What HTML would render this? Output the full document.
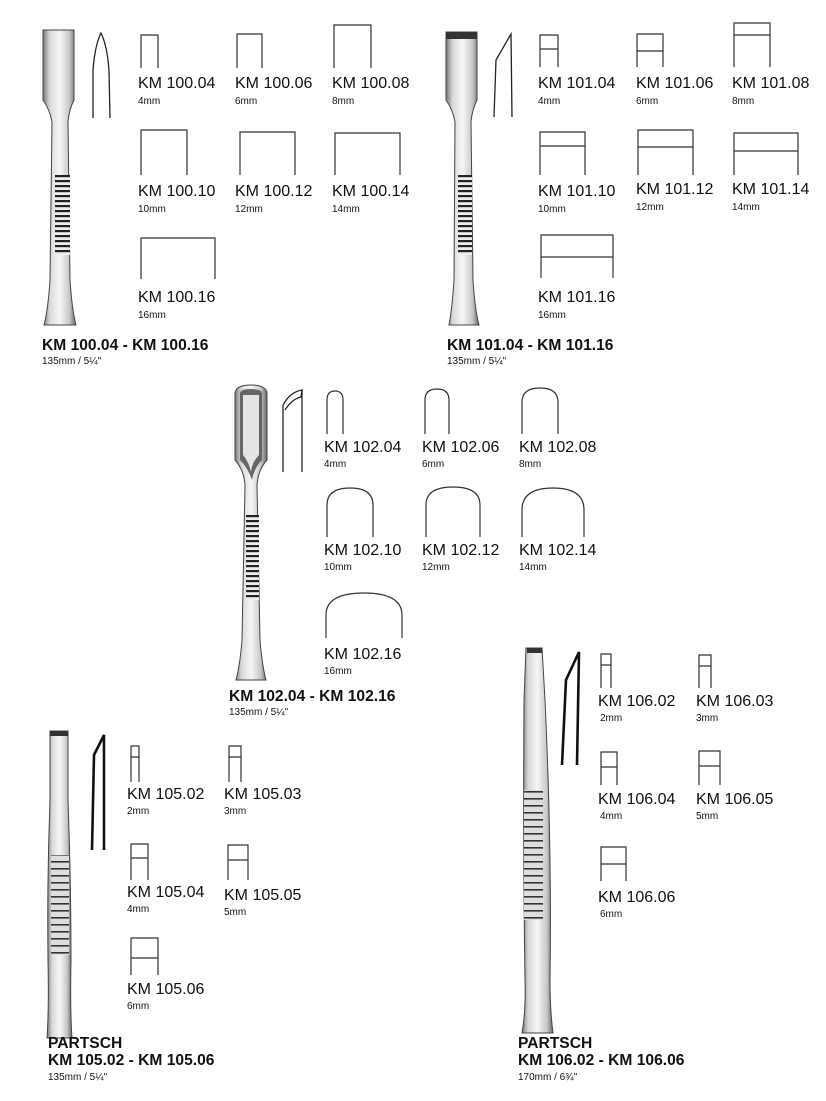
<!DOCTYPE html>
<html><head><meta charset="utf-8"><style>
html,body{margin:0;padding:0;background:#fff;}
svg{display:block;}
text{font-family:"Liberation Sans",Arial,sans-serif;fill:#111;}
.l{font-size:16px;}
.m{font-size:10px;}
.t{font-size:15.6px;font-weight:bold;}
.s{fill:none;stroke:#333;stroke-width:1.2;}
.p{fill:none;stroke:#222;stroke-width:1.3;}
.pk{fill:none;stroke:#111;stroke-width:2.6;}
.ins{fill:url(#g);stroke:#444;stroke-width:1;}
</style></head><body>
<svg width="826" height="1101" viewBox="0 0 826 1101" xmlns="http://www.w3.org/2000/svg">
<defs>
<linearGradient id="g" x1="0" x2="1" y1="0" y2="0">
<stop offset="0" stop-color="#777"/><stop offset="0.2" stop-color="#d8d8d8"/><stop offset="0.5" stop-color="#f6f6f6"/><stop offset="0.8" stop-color="#c8c8c8"/><stop offset="1" stop-color="#666"/>
</linearGradient>
<pattern id="ser" width="4" height="5" patternUnits="userSpaceOnUse"><rect width="4" height="5" fill="#eee"/><rect width="4" height="2.2" fill="#222"/></pattern>
<pattern id="ser2" width="4" height="7" patternUnits="userSpaceOnUse"><rect width="4" height="7" fill="#ddd"/><rect width="4" height="1.6" fill="#333"/></pattern>
</defs>

<!-- SET 1 -->
<path class="ins" d="M43,30 L74,30 L74,100 Q69,110 68,122 L70,280 Q72,310 76,325 L44,325 Q48,310 50,280 L52,122 Q50,110 43,100 Z"/>
<rect x="55" y="175" width="15" height="80" fill="url(#ser)"/>
<path class="p" d="M93,118 L93,70 Q95,45 101,33 Q107,45 109,70 L110,118"/>
<path class="s" d="M141,68 V35 H158 V68"/>
<path class="s" d="M237,68 V34 H262 V68"/>
<path class="s" d="M334,68 V25 H371 V68"/>
<path class="s" d="M141,175 V130 H187 V175"/>
<path class="s" d="M240,175 V132 H295 V175"/>
<path class="s" d="M335,175 V133 H400 V175"/>
<path class="s" d="M141,279 V238 H215 V279"/>
<text class="l" x="138" y="88">KM 100.04</text><text class="m" x="138" y="104">4mm</text>
<text class="l" x="235" y="88">KM 100.06</text><text class="m" x="235" y="104">6mm</text>
<text class="l" x="332" y="88">KM 100.08</text><text class="m" x="332" y="104">8mm</text>
<text class="l" x="138" y="196">KM 100.10</text><text class="m" x="138" y="212">10mm</text>
<text class="l" x="235" y="196">KM 100.12</text><text class="m" x="235" y="212">12mm</text>
<text class="l" x="332" y="196">KM 100.14</text><text class="m" x="332" y="212">14mm</text>
<text class="l" x="138" y="302">KM 100.16</text><text class="m" x="138" y="318">16mm</text>
<text class="t" x="42" y="350">KM 100.04 - KM 100.16</text>
<text class="m" x="42" y="364">135mm / 5¼"</text>

<!-- SET 2 -->
<path class="ins" d="M446,32 L477,32 L477,100 Q472,110 471,122 L473,280 Q475,310 479,325 L449,325 Q452,310 454,280 L455,122 Q453,110 446,100 Z"/>
<rect x="446" y="32" width="31" height="7" fill="#333"/>
<rect x="458" y="175" width="14" height="80" fill="url(#ser)"/>
<path class="p" d="M494,117 L496,60 L511,34 L512,117"/>
<path class="s" d="M540,67 V35 H558 V67 M540,49 H558"/>
<path class="s" d="M637,67 V34 H663 V67 M637,51 H663"/>
<path class="s" d="M734,67 V23 H770 V67 M734,35 H770"/>
<path class="s" d="M540,175 V132 H585 V175 M540,146 H585"/>
<path class="s" d="M638,175 V130 H693 V175 M638,147 H693"/>
<path class="s" d="M734,175 V133 H798 V175 M734,151 H798"/>
<path class="s" d="M541,278 V235 H613 V278 M541,257 H613"/>
<text class="l" x="538" y="88">KM 101.04</text><text class="m" x="538" y="104">4mm</text>
<text class="l" x="636" y="88">KM 101.06</text><text class="m" x="636" y="104">6mm</text>
<text class="l" x="732" y="88">KM 101.08</text><text class="m" x="732" y="104">8mm</text>
<text class="l" x="538" y="196">KM 101.10</text><text class="m" x="538" y="212">10mm</text>
<text class="l" x="636" y="194">KM 101.12</text><text class="m" x="636" y="210">12mm</text>
<text class="l" x="732" y="194">KM 101.14</text><text class="m" x="732" y="210">14mm</text>
<text class="l" x="538" y="302">KM 101.16</text><text class="m" x="538" y="318">16mm</text>
<text class="t" x="447" y="350">KM 101.04 - KM 101.16</text>
<text class="m" x="447" y="364">135mm / 5¼"</text>

<!-- SET 3 -->
<path class="ins" d="M235,393 Q236,385 251,385 Q266,385 267,393 L267,460 Q258,470 257,485 L260,640 Q262,665 266,680 L236,680 Q240,665 242,640 L245,485 Q244,470 235,460 Z"/>
<path d="M240,393 Q241,389 251,389 Q261,389 262,393 L262,460 Q254,468 252,480 Q248,468 240,460 Z" fill="#666"/>
<path d="M243,395 L259,395 L259,455 Q252,462 251,472 Q249,462 243,455 Z" fill="#e4e4e4"/>
<rect x="246" y="515" width="13" height="85" fill="url(#ser)"/>
<path class="p" d="M283,472 L283,405 Q290,392 302,390 L301,397 Q292,399 285,410 M302,390 L302,472"/>
<path class="s" d="M327,434 V400 Q327,391 335,391 Q343,391 343,400 V434"/>
<path class="s" d="M425,434 V400 Q425,389 437,389 Q449,389 449,400 V434"/>
<path class="s" d="M522,434 V402 Q522,388 540,388 Q558,388 558,402 V434"/>
<path class="s" d="M327,537 V505 Q327,488 350,488 Q373,488 373,505 V537"/>
<path class="s" d="M426,537 V505 Q426,487 453,487 Q480,487 480,505 V537"/>
<path class="s" d="M522,537 V510 Q522,488 553,488 Q584,488 584,510 V537"/>
<path class="s" d="M326,638 V615 Q326,593 364,593 Q402,593 402,615 V638"/>
<text class="l" x="324" y="452">KM 102.04</text><text class="m" x="324" y="467">4mm</text>
<text class="l" x="422" y="452">KM 102.06</text><text class="m" x="422" y="467">6mm</text>
<text class="l" x="519" y="452">KM 102.08</text><text class="m" x="519" y="467">8mm</text>
<text class="l" x="324" y="555">KM 102.10</text><text class="m" x="324" y="570">10mm</text>
<text class="l" x="422" y="555">KM 102.12</text><text class="m" x="422" y="570">12mm</text>
<text class="l" x="519" y="555">KM 102.14</text><text class="m" x="519" y="570">14mm</text>
<text class="l" x="324" y="659">KM 102.16</text><text class="m" x="324" y="674">16mm</text>
<text class="t" x="229" y="701">KM 102.04 - KM 102.16</text>
<text class="m" x="229" y="715">135mm / 5¼"</text>

<!-- SET 4 -->
<path class="ins" d="M50,731 L68,731 L68,800 Q71,880 71,960 Q70,1010 72,1038 L47,1038 Q49,1010 48,960 Q47,880 50,800 Z"/>
<rect x="50" y="731" width="18" height="5" fill="#333"/>
<rect x="51" y="855" width="18" height="100" fill="url(#ser2)"/>
<path class="pk" d="M92,850 L94,755 L104,735 L104,850"/>
<path class="s" d="M131,782 V746 H139 V782 M131,757 H139"/>
<path class="s" d="M229,782 V746 H241 V782 M229,757 H241"/>
<path class="s" d="M131,880 V844 H148 V880 M131,858 H148"/>
<path class="s" d="M228,880 V845 H248 V880 M228,860 H248"/>
<path class="s" d="M131,975 V938 H158 V975 M131,958 H158"/>
<text class="l" x="127" y="799">KM 105.02</text><text class="m" x="127" y="814">2mm</text>
<text class="l" x="224" y="799">KM 105.03</text><text class="m" x="224" y="814">3mm</text>
<text class="l" x="127" y="897">KM 105.04</text><text class="m" x="127" y="912">4mm</text>
<text class="l" x="224" y="900">KM 105.05</text><text class="m" x="224" y="915">5mm</text>
<text class="l" x="127" y="994">KM 105.06</text><text class="m" x="127" y="1009">6mm</text>
<text class="t" x="48" y="1048">PARTSCH</text>
<text class="t" x="48" y="1065">KM 105.02 - KM 105.06</text>
<text class="m" x="48" y="1080">135mm / 5¼"</text>

<!-- SET 5 -->
<path class="ins" d="M526,648 L542,648 L545,700 Q552,850 550,980 Q550,1010 553,1033 L522,1033 Q526,1010 525,980 Q523,850 524,700 Z"/>
<rect x="527" y="648" width="15" height="5" fill="#333"/>
<rect x="524" y="790" width="19" height="130" fill="url(#ser2)"/>
<path class="pk" d="M562,765 L566,680 L579,652 L577,765"/>
<path class="s" d="M601,688 V654 H611 V688 M601,665 H611"/>
<path class="s" d="M699,688 V655 H711 V688 M699,666 H711"/>
<path class="s" d="M601,785 V752 H617 V785 M601,767 H617"/>
<path class="s" d="M699,785 V751 H720 V785 M699,766 H720"/>
<path class="s" d="M601,881 V847 H626 V881 M601,864 H626"/>
<text class="l" x="598" y="706">KM 106.02</text><text class="m" x="600" y="721">2mm</text>
<text class="l" x="696" y="706">KM 106.03</text><text class="m" x="696" y="721">3mm</text>
<text class="l" x="598" y="804">KM 106.04</text><text class="m" x="600" y="819">4mm</text>
<text class="l" x="696" y="804">KM 106.05</text><text class="m" x="696" y="819">5mm</text>
<text class="l" x="598" y="902">KM 106.06</text><text class="m" x="600" y="917">6mm</text>
<text class="t" x="518" y="1048">PARTSCH</text>
<text class="t" x="518" y="1065">KM 106.02 - KM 106.06</text>
<text class="m" x="518" y="1080">170mm / 6¾"</text>
</svg>
</body></html>
